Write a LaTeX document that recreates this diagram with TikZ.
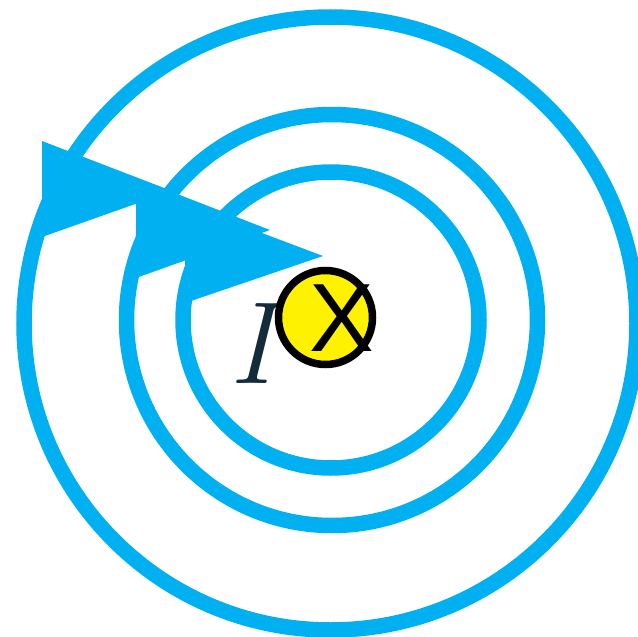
\documentclass[tikz,border=0pt]{standalone}
\usepackage{fontspec}
\newfontfamily\xfont{Liberation Sans}
\definecolor{wave}{RGB}{0,176,240}
\definecolor{Idark}{RGB}{18,44,60}
\begin{document}
\begin{tikzpicture}[x=1pt,y=-1pt,
  ring/.style={draw=wave,line width=15.5pt},
  head/.style={fill=wave}]
\useasboundingbox (0,0) rectangle (638,637);
% field lines
\draw[ring] (330.5,323.5) circle[radius=306.5pt];
\draw[ring] (332,320) circle[radius=205.5pt];
\draw[ring] (331,320) circle[radius=148pt];
% arrow heads
\fill[head] (42,141) -- (42,237) -- (172,191) -- cycle;
\fill[head] (136,178) -- (136,278) -- (270,230) -- cycle;
\fill[head] (185,204) -- (185,303) -- (323,256) -- cycle;
% label
\node[text=Idark, font=\fontsize{117}{117}\selectfont\itshape, inner sep=0pt] (lab) at (252,344) {I};
% conductor
\node[circle, draw=black, fill=yellow, line width=7.5pt, minimum size=94pt, inner sep=0pt] (wire) at (325.5,317.5) {};
\node[font=\xfont\fontsize{97}{97}\selectfont, inner sep=0pt] (xmark) at (341.5,318) {X};
\end{tikzpicture}
\end{document}
